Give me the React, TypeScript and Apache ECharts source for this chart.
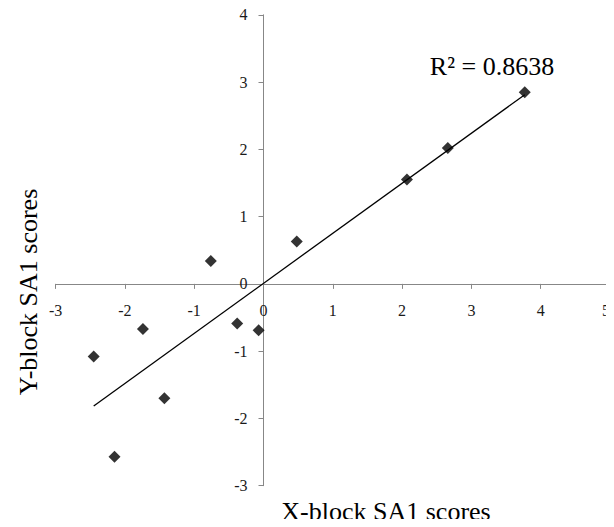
import React, { useEffect, useRef } from "react";
import * as echarts from "echarts";

// SA1 scores for each sample: X-block (horizontal) vs Y-block (vertical)
const xScores = [3.77, 2.66, 2.07, 0.48, -0.76, -0.38, -0.07, -1.74, -2.45, -1.43, -2.15];
const yScores = [2.85, 2.02, 1.55, 0.63, 0.34, -0.59, -0.69, -0.67, -1.08, -1.70, -2.57];

const xTicks = [-3, -2, -1, 0, 1, 2, 3, 4, 5];
const yTicks = [-3, -2, -1, 0, 1, 2, 3, 4];

const rSquaredText = "R\u00b2 = 0.8638";
const xTitle = "X-block SA1 scores";
const yTitle = "Y-block SA1 scores";

const SERIF = "'Liberation Serif', 'Times New Roman', serif";

const WIDTH = 614;
const HEIGHT = 527;
const GRID = { left: 55.6, right: 4, top: 14.8, bottom: 41.3 };

// Ordinary least-squares fit of y on x
function linearFit(xs: number[], ys: number[]) {
  const n = xs.length;
  const mx = xs.reduce((a, b) => a + b, 0) / n;
  const my = ys.reduce((a, b) => a + b, 0) / n;
  let sxy = 0;
  let sxx = 0;
  for (let i = 0; i < n; i++) {
    sxy += (xs[i] - mx) * (ys[i] - my);
    sxx += (xs[i] - mx) * (xs[i] - mx);
  }
  const slope = sxy / sxx;
  return { slope, intercept: my - slope * mx };
}

export default function App() {
  const ref = useRef<HTMLDivElement>(null);

  useEffect(() => {
    if (!ref.current) return;
    const chart = echarts.init(ref.current, null, { renderer: "svg" });

    const points = xScores.map((x, i) => [x, yScores[i]]);
    const { slope, intercept } = linearFit(xScores, yScores);
    const xMin = Math.min(...xScores);
    const xMax = Math.max(...xScores);
    const trend = [
      [xMin, intercept + slope * xMin],
      [xMax, intercept + slope * xMax],
    ];

    const xLo = xTicks[0];
    const xHi = xTicks[xTicks.length - 1];
    const yLo = yTicks[0];
    const yHi = yTicks[yTicks.length - 1];

    // Shift each axis (line, ticks and labels) inward so it crosses at zero
    const gridW = WIDTH - GRID.left - GRID.right;
    const gridH = HEIGHT - GRID.top - GRID.bottom;
    const xAxisOffset = -((0 - yLo) / (yHi - yLo)) * gridH;
    const yAxisOffset = -((0 - xLo) / (xHi - xLo)) * gridW;

    const axisColor = "#878787";
    const labelStyle = {
      fontFamily: SERIF,
      fontSize: 16,
      color: "#1a1a1a",
      showMinLabel: true,
      showMaxLabel: true,
      hideOverlap: false,
    };

    chart.setOption({
      animation: false,
      backgroundColor: "#ffffff",
      grid: {
        ...GRID,
        containLabel: false,
        outerBoundsMode: "none",
      },
      xAxis: {
        type: "value",
        position: "bottom",
        offset: xAxisOffset,
        min: xLo,
        max: xHi,
        interval: 1,
        splitLine: { show: false },
        axisLine: { onZero: false, lineStyle: { color: axisColor, width: 1 } },
        axisTick: { show: true, inside: false, length: 5, lineStyle: { color: axisColor } },
        axisLabel: { ...labelStyle, margin: 19, alignMaxLabel: "right" },
      },
      yAxis: {
        type: "value",
        position: "left",
        offset: yAxisOffset,
        min: yLo,
        max: yHi,
        interval: 1,
        splitLine: { show: false },
        axisLine: { onZero: false, lineStyle: { color: axisColor, width: 1 } },
        axisTick: { show: true, inside: false, length: 5, lineStyle: { color: axisColor } },
        axisLabel: { ...labelStyle, margin: 16 },
      },
      series: [
        {
          type: "line",
          data: trend,
          showSymbol: false,
          symbol: "none",
          lineStyle: { color: "#000000", width: 1.3 },
          silent: true,
          z: 2,
        },
        {
          type: "scatter",
          data: points,
          symbol: "diamond",
          symbolSize: 12,
          itemStyle: { color: "#000000" },
          z: 3,
        },
      ],
      graphic: [
        {
          type: "text",
          x: 492,
          y: 66,
          style: {
            text: rSquaredText,
            font: `26px ${SERIF}`,
            fill: "#000000",
            align: "center",
            verticalAlign: "middle",
            textAlign: "center",
            textVerticalAlign: "middle",
          },
        },
        {
          type: "text",
          x: 386,
          y: 511,
          style: {
            text: xTitle,
            font: `26px ${SERIF}`,
            fill: "#000000",
            align: "center",
            verticalAlign: "middle",
            textAlign: "center",
            textVerticalAlign: "middle",
          },
        },
        {
          type: "text",
          x: 28,
          y: 292,
          rotation: Math.PI / 2,
          style: {
            text: yTitle,
            font: `26px ${SERIF}`,
            fill: "#000000",
            align: "center",
            verticalAlign: "middle",
            textAlign: "center",
            textVerticalAlign: "middle",
          },
        },
      ],
    });

    return () => chart.dispose();
  }, []);

  return <div ref={ref} style={{ width: WIDTH, height: HEIGHT, margin: -8 }} />;
}
